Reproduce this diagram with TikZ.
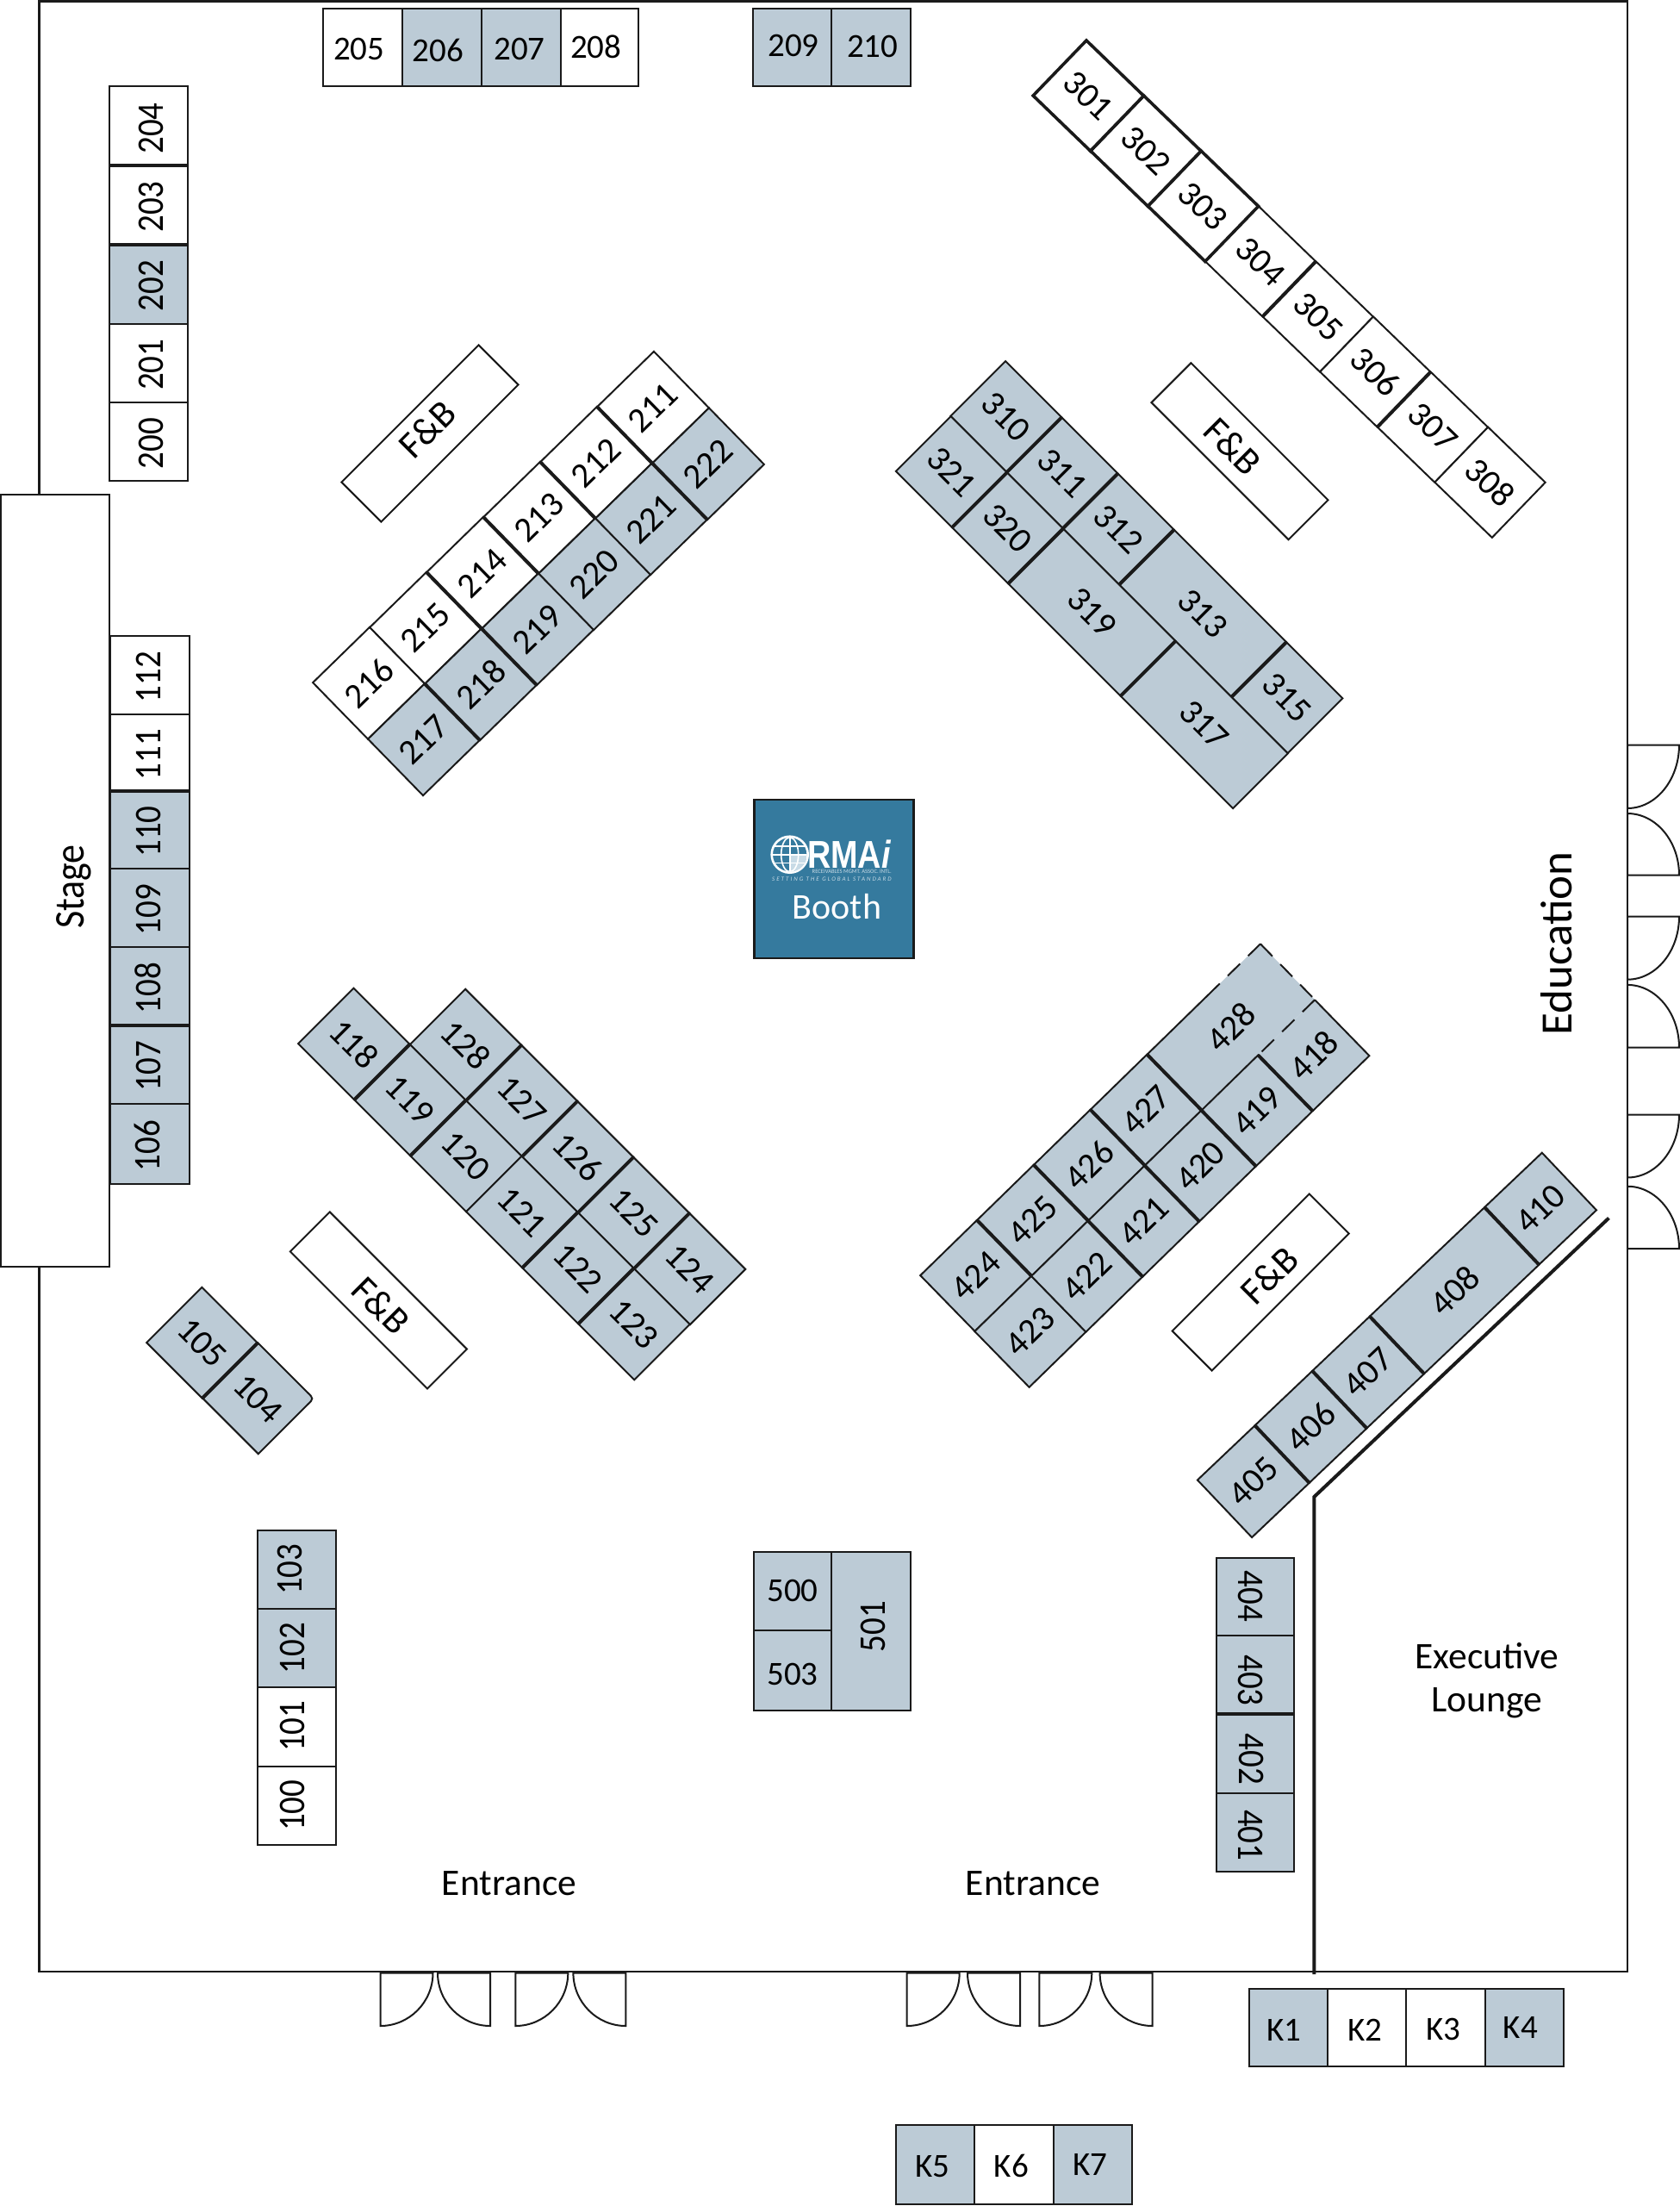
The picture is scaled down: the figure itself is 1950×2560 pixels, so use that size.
\documentclass[tikz,border=0pt]{standalone}
\usepackage{fontspec}
\setmainfont{Carlito}
\newfontfamily\logofont{Liberation Sans}
\usetikzlibrary{calc}
\definecolor{gb}{HTML}{BCCBD6}
\definecolor{ink}{HTML}{1A1A1A}
\definecolor{rmablue}{HTML}{357A9E}
\definecolor{rmapale}{HTML}{C8DBE6}
\newcommand\cellfont{\fontsize{39}{39}\selectfont}
\newcommand\diagfont{\fontsize{41}{41}\selectfont}
\newcommand\labfont{\fontsize{43.5}{50.5}\selectfont}
\tikzset{
  cell/.style={draw=ink,line width=2pt,inner sep=0pt,outer sep=0pt,font=\cellfont,text=black},
  cellextra/.style={},
  celltext/.style={inner sep=0pt,outer sep=0pt,font=\cellfont,text=black},
  sepline/.style={draw=ink,line width=4pt},
  doorline/.style={draw=ink,line width=2pt,fill=white},
  wall/.style={draw=ink,line width=2.2pt},
  partition/.style={draw=ink,line width=4pt},
  lab/.style={font=\labfont,text=black,align=center,inner sep=0pt},
  fnb/.style={cell,fill=white,minimum width=225pt,minimum height=65pt},
  fnbtext/.style={inner sep=0pt,font=\fontsize{44}{44}\selectfont,text=black},
}
\newcommand\hcell[7][0,0]{%
  \pgfmathsetmacro\cw{#5-#3}\pgfmathsetmacro\ch{#6-#4}%
  \node[cell,fill=#7,minimum width=\cw pt,minimum height=\ch pt] (b#2) at ({(#3+#5)/2},{(#4+#6)/2}) {};
  \node[celltext] (t#2) at ($(b#2.center)+(#1)$) {#2};}
\newcommand\vcell[8][0,0]{%
  \pgfmathsetmacro\cw{#5-#3}\pgfmathsetmacro\ch{#6-#4}%
  \node[cell,fill=#7,minimum width=\cw pt,minimum height=\ch pt] (b#2) at ({(#3+#5)/2},{(#4+#6)/2}) {};
  \node[celltext,rotate=#8] (t#2) at ($(b#2.center)+(#1)$) {\scalebox{1}[1.12]{#2}};}
\newcommand\diag[4]{%
  \foreach \lab/\i/\j/\w/\col in {#4}{%
    \node[cell,font=\diagfont,fill=\col,rotate=#1,minimum width={\w*#2pt},minimum height=#3pt,cellextra] (b\lab) at ({\i+\w/2},{\j+0.5}) {\lab};}}
\newcommand\door[4]{%
  \draw[doorline] (#1,#2) -- ({#1+#3},#2) .. controls ({#1+#3},{#2+0.55*#4}) and ({#1+0.55*#3},{#2+#4}) .. (#1,{#2+#4}) -- cycle;}
\newcommand\sepe[1]{\draw[sepline] (b#1.north east) -- (b#1.south east);}
\newcommand\sepw[1]{\draw[sepline] (b#1.north west) -- (b#1.south west);}
\newcommand\seps[1]{\draw[sepline] (b#1.south west) -- (b#1.south east);}
\begin{document}
\begin{tikzpicture}[x=1pt,y=-1pt]
\useasboundingbox (0,0) rectangle (1950,2560);
% room
\draw[wall] (45.5,1.5) rectangle (1889,2288);
% stage
\node[cell,fill=white,minimum width=126.5pt,minimum height=896pt] (stage) at (64.2,1022) {};
\node[lab,rotate=90,anchor=base,font=\fontsize{44}{44}\selectfont] (stagelab) at (97.6,1029) {\scalebox{1}[1.12]{Stage}};
% doors right
\door{1889}{864.5}{60}{73.5}
\door{1889}{1015.5}{60}{-71.5}
\door{1889}{1063.7}{60}{73}
\door{1889}{1215.5}{60}{-72.6}
\door{1889}{1293.5}{60}{73}
\door{1889}{1449}{60}{-72.3}
% doors bottom
\door{441.5}{2289.5}{61}{61.5}
\door{569}{2289.5}{-61}{61.5}
\door{598.3}{2289.5}{61}{61.5}
\door{726.4}{2289.5}{-61}{61.5}
\door{1052.7}{2289.5}{61}{61.5}
\door{1184}{2289.5}{-61}{61.5}
\door{1206.3}{2289.5}{61}{61.5}
\door{1337.6}{2289.5}{-61}{61.5}
% column 200-204
\vcell[3,3]{204}{127}{100}{218}{192}{white}{90}
\vcell[3,2]{203}{127}{192}{218}{284}{white}{90}
\vcell[3,2]{202}{127}{284}{218}{375.5}{gb}{90}
\vcell[3,2]{201}{127}{375.5}{218}{467}{white}{90}
\vcell[3,2]{200}{127}{467}{218}{558}{white}{90}
\seps{204}\seps{203}
% row 205-210
\hcell[-4,2]{205}{375}{9.5}{466.5}{100}{white}
\hcell[-4,4]{206}{466.5}{9.5}{558.5}{100}{gb}
\hcell[-1.5,2]{207}{558.5}{9.5}{650.5}{100}{gb}
\hcell[-4,0]{208}{650.5}{9.5}{741}{100}{white}
\hcell[1.5,-1.5]{209}{874}{9.5}{965}{100}{gb}
\hcell[2,-1]{210}{965}{9.5}{1056.5}{100}{gb}
% column 106-112
\vcell[-1.5,2]{112}{127.5}{738}{219.5}{829}{white}{90}
\vcell[-1.5,2]{111}{127.5}{829}{219.5}{918.4}{white}{90}
\vcell[-1.5,2]{110}{127.5}{918.4}{219.5}{1007.8}{gb}{90}
\vcell[-1.5,2]{109}{127.5}{1007.8}{219.5}{1099}{gb}{90}
\vcell[-1.5,2]{108}{127.5}{1099}{219.5}{1189.8}{gb}{90}
\vcell[-1.5,2]{107}{127.5}{1189.8}{219.5}{1280.8}{gb}{90}
\vcell[-3,2]{106}{127.5}{1280.8}{219.5}{1374}{gb}{90}
\seps{111}\seps{108}
% column 100-103
\vcell[-8,0]{103}{298.5}{1776}{390}{1866.5}{gb}{90}
\vcell[-5,0]{102}{298.5}{1866.5}{390}{1958.4}{gb}{90}
\vcell[-5,-1]{101}{298.5}{1958.4}{390}{2049.8}{white}{90}
\vcell[-5,0]{100}{298.5}{2049.8}{390}{2140.8}{white}{90}
% 500 block
\hcell{500}{875}{1801}{965}{1891.8}{gb}
\hcell[0,5]{503}{875}{1891.8}{965}{1984.5}{gb}
\vcell[3,-5]{501}{965}{1801}{1056.5}{1984.5}{gb}{90}
% column 401-404
\vcell[-6,-1]{404}{1412}{1807.8}{1502.4}{1898.4}{gb}{-90}
\vcell[-6,6]{403}{1412}{1898.4}{1502.4}{1989.4}{gb}{-90}
\vcell[-5,6]{402}{1412}{1989.4}{1502.4}{2081.2}{gb}{-90}
\vcell[-6,3]{401}{1412}{2081.2}{1502.4}{2172.2}{gb}{-90}
\seps{403}
% K rows
\hcell[-5,3]{K1}{1449.5}{2307.8}{1541}{2397.6}{gb}
\hcell[-2,3]{K2}{1541}{2307.8}{1632.3}{2397.6}{white}
\hcell[-3,2]{K3}{1632.3}{2307.8}{1724.4}{2397.6}{white}
\hcell[-5,0]{K4}{1724.4}{2307.8}{1815.2}{2397.6}{gb}
\hcell[-3,2]{K5}{1040.3}{2466}{1131}{2557.5}{gb}
\hcell[-3,2]{K6}{1131}{2466}{1222.5}{2557.5}{white}
\hcell[-3,0]{K7}{1222.5}{2466}{1314}{2557.5}{gb}
% F&B
\node[fnb,rotate=45] (fb1) at (499,503) {};
\node[fnb,rotate=-45] (fb2) at (1439,523.7) {};
\node[fnb,rotate=-45] (fb3) at (439.4,1509) {};
\node[fnb,rotate=45] (fb4) at (1463.2,1488) {};
\node[fnbtext,rotate=45] (fbt1) at ($(fb1.center)+(-3,-5)$) {F\&B};
\node[fnbtext,rotate=-45] (fbt2) at ($(fb2.center)+(-8,-6)$) {F\&B};
\node[fnbtext,rotate=-45] (fbt3) at ($(fb3.center)+(3,6)$) {F\&B};
\node[fnbtext,rotate=45] (fbt4) at ($(fb4.center)+(10,-8)$) {F\&B};
% block 211-222
\begin{scope}[shift={(759,408)},x={(-66pt,-64pt)},y={(64pt,-65.5pt)}]
\diag{44.3}{92}{91.5}{211/0/0/1/white,212/1/0/1/white,213/2/0/1/white,214/3/0/1/white,215/4/0/1/white,216/5/0/1/white,
222/0/1/1/gb,221/1/1/1/gb,220/2/1/1/gb,219/3/1/1/gb,218/4/1/1/gb,217/5/1/1/gb}
\end{scope}
\sepw{211}\sepw{212}\sepw{213}\sepw{214}\sepw{222}\sepw{219}\sepw{218}
% row 301-308
\begin{scope}[shift={(1261,47)},x={(66.6pt,-64.1pt)},y={(-62pt,-64pt)}]
\diag{-44}{92.4}{89}{304/3/0/1/white,305/4/0/1/white,306/5/0/1/white,307/6/0/1/white,308/7/0/1/white}
\begin{scope}[cellextra/.style={line width=3.6pt}]
\diag{-44}{92.4}{89}{303/2/0/1/white,302/1/0/1/white,301/0/0/1/white}
\end{scope}
\end{scope}
\sepe{304}\sepe{306}
% block 310-321
\begin{scope}[shift={(1167,419)},x={(65.2pt,-65.2pt)},y={(-63.5pt,-64pt)}]
\diag{-45}{92.2}{90.2}{310/0/0/1/gb,311/1/0/1/gb,312/2/0/1/gb,313/3/0/2/gb,315/5/0/1/gb,
321/0/1/1/gb,320/1/1/1/gb,319/2/1/2/gb,317/4/1/2/gb}
\end{scope}
\sepe{310}\sepe{311}\sepe{312}\sepe{321}\sepe{319}\sepe{320}\sepe{313}
% block 118-128
\begin{scope}[shift={(540.4,1148)},x={(65pt,-65pt)},y={(-64.7pt,-64pt)}]
\diag{-45}{92}{91}{128/0/0/1/gb,127/1/0/1/gb,126/2/0/1/gb,125/3/0/1/gb,124/4/0/1/gb,
118/-1/1/1/gb,119/0/1/1/gb,120/1/1/1/gb,121/2/1/1/gb,122/3/1/1/gb,123/4/1/1/gb}
\end{scope}
\sepe{118}\sepe{128}\sepe{119}\sepe{127}\sepe{126}\sepe{121}\sepe{125}\sepe{122}
% 105 104
\begin{scope}[shift={(233.8,1493.5)},x={(65pt,-64.5pt)},y={(-63.4pt,-65pt)}]
\diag{-45}{91.5}{90.8}{105/0/0/1/gb,104/1/0/1/gb}
\end{scope}
\sepe{105}
% rounded corner of 104
\coordinate (c104) at (b104.north east);
\fill[white] ($(c104)+(-7,-7)$) -- ($(c104)+(4,0)$) -- ($(c104)+(-7,7)$) -- cycle;
\fill[gb] ($(c104)+(-7,-7)$) .. controls (c104) .. ($(c104)+(-7,7)$) -- cycle;
\draw[draw=ink,line width=2pt] ($(c104)+(-7,-7)$) .. controls (c104) .. ($(c104)+(-7,7)$);
% block 418-428
\begin{scope}[shift={(1068.3,1480)},x={(65.8pt,64.1pt)},y={(63.1pt,-64.9pt)}]
\begin{scope}[cellextra/.style={draw=none}]
\diag{44.3}{91.9}{90.6}{428/4/0/2/gb,418/5/1/1/gb}
\end{scope}
\diag{44.3}{91.9}{90.6}{424/0/0/1/gb,425/1/0/1/gb,426/2/0/1/gb,427/3/0/1/gb,
423/0/1/1/gb,422/1/1/1/gb,421/2/1/1/gb,420/3/1/1/gb,419/4/1/1/gb}
\end{scope}
\sepe{424}\sepe{425}\sepe{426}\sepe{427}\sepe{419}\sepe{420}\sepe{421}\sepe{422}
\draw[draw=ink,line width=2pt] ($(b428.north west)!0.55!(b428.north east)$) -- (b428.north west);
\draw[draw=ink,line width=2pt,dash pattern=on 20pt off 13pt] (b428.north east) -- ($(b428.north west)!0.55!(b428.north east)$);
\draw[draw=ink,line width=2pt,dash pattern=on 20pt off 13pt] (b428.north east) -- (b428.south east);
\draw[draw=ink,line width=2pt,dash pattern=on 20pt off 13pt] (b418.north east) -- (b418.north west);
\draw[draw=ink,line width=2pt] (b418.north east) -- (b418.south east) -- (b418.south west);
% block 405-410
\begin{scope}[shift={(1389.8,1717.6)},x={(66.65pt,63.3pt)},y={(63.4pt,-66.4pt)}]
\diag{43.5}{91.9}{91.8}{405/0/0/1/gb,406/1/0/1/gb,407/2/0/1/gb,408/3/0/2/gb,410/5/0/1/gb}
\end{scope}
\sepe{405}\sepe{406}\sepe{407}\sepe{408}
% partition
\coordinate (pa) at (1867.4,1413.5);
\coordinate (pb) at (1525.4,1737);
\coordinate (pc) at (1525.4,2291);
\draw[partition,line join=miter] (pa) -- (pb) -- (pc);
% labels
\node[lab,rotate=90,anchor=base,font=\fontsize{53}{53}\selectfont] (edu) at (1824,1095) {\scalebox{1}[0.98]{Education}};
\node[lab,anchor=base] (ent1) at (591,2199) {Entrance};
\node[lab,anchor=base] (ent2) at (1199,2199) {Entrance};
\node[lab,anchor=base] (exec) at (1726,1936) {Executive};
\node[lab,anchor=base] (loun) at (1726,1986.5) {Lounge};
% RMAi booth
\node[draw=ink,line width=2.5pt,fill=rmablue,minimum width=185pt,minimum height=184pt,inner sep=0pt] (booth) at (967.8,1020) {};
\node[inner sep=0pt,anchor=base,text=white,font=\fontsize{42}{42}\selectfont] (boothlab) at (971.5,1066.7) {Booth};
\node[draw=white,line width=2.6pt,circle,minimum size=42pt,inner sep=0pt,fill=rmablue] (globe) at (916.7,991.7) {};
\begin{scope}
\clip (916.7,991.7) circle (20pt);
\fill[rmapale] (917,992) rectangle (937,1012);
\draw[white,line width=1.6pt] (916.7,991.7) ellipse (10pt and 20pt);
\draw[white,line width=1.6pt] (916.7,970) -- (916.7,1013);
\draw[white,line width=1.6pt] (895,991.7) -- (938,991.7) (895,982) -- (938,982) (895,1001.5) -- (938,1001.5);
\end{scope}
\node[inner sep=0pt,anchor=base west,text=white] (rmai) at (937,1007) {\logofont\fontsize{45}{45}\selectfont\scalebox{0.84}[1]{\bfseries RMA\itshape i}};
\node[inner sep=0pt,anchor=base east,text=rmapale,font=\fontsize{6.6}{7}\selectfont] (rmasub) at (1035,1013) {RECEIVABLES MGMT. ASSOC. INTL.};
\node[inner sep=0pt,anchor=base east,text=rmapale,font=\fontsize{7}{8}\selectfont\itshape] (rmatag) at (1035,1022) {\addfontfeature{LetterSpace=28}SETTING THE GLOBAL STANDARD};
\end{tikzpicture}
\end{document}
